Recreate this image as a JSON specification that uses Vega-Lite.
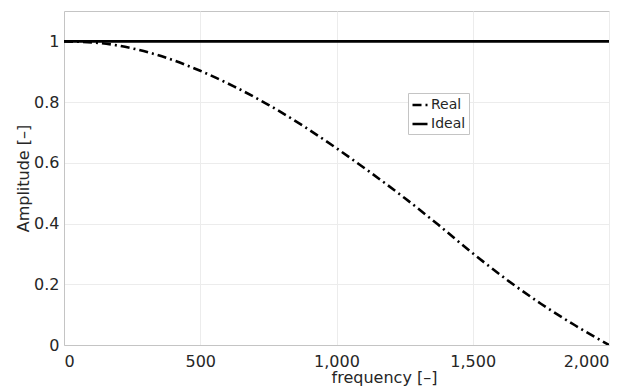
{
  "$schema": "https://vega.github.io/schema/vega-lite/v6.json",
  "autosize": {"type": "none"},
  "padding": {"left": 64, "top": 11, "right": 19, "bottom": 47},
  "width": 545,
  "height": 334,
  "background": "white",
  "config": {
    "font": "DejaVu Sans",
    "view": {"stroke": "#c4c4c4", "strokeWidth": 1},
    "axis": {
      "domainColor": "#c4c4c4",
      "gridColor": "#ececec",
      "gridWidth": 1,
      "ticks": false,
      "labelFont": "DejaVu Sans",
      "labelFontSize": 16,
      "labelColor": "#262626",
      "titleFont": "DejaVu Sans",
      "titleFontSize": 16,
      "titleFontWeight": "normal",
      "titleColor": "#262626"
    }
  },
  "data": {
    "values": [
      {"f": 0, "amp": 1.0, "series": "Real"},
      {"f": 125, "amp": 0.995, "series": "Real"},
      {"f": 250, "amp": 0.977, "series": "Real"},
      {"f": 375, "amp": 0.946, "series": "Real"},
      {"f": 500, "amp": 0.903, "series": "Real"},
      {"f": 625, "amp": 0.851, "series": "Real"},
      {"f": 750, "amp": 0.791, "series": "Real"},
      {"f": 875, "amp": 0.723, "series": "Real"},
      {"f": 1000, "amp": 0.648, "series": "Real"},
      {"f": 1125, "amp": 0.568, "series": "Real"},
      {"f": 1250, "amp": 0.484, "series": "Real"},
      {"f": 1375, "amp": 0.395, "series": "Real"},
      {"f": 1500, "amp": 0.302, "series": "Real"},
      {"f": 1625, "amp": 0.215, "series": "Real"},
      {"f": 1750, "amp": 0.136, "series": "Real"},
      {"f": 1875, "amp": 0.065, "series": "Real"},
      {"f": 2000, "amp": 0.0, "series": "Real"},
      {"f": 0, "amp": 1.0, "series": "Ideal"},
      {"f": 2000, "amp": 1.0, "series": "Ideal"}
    ]
  },
  "mark": {"type": "line", "color": "black", "strokeWidth": 2.6, "interpolate": "monotone", "clip": true},
  "encoding": {
    "x": {
      "field": "f",
      "type": "quantitative",
      "scale": {"domain": [0, 2000], "nice": false},
      "axis": {
        "values": [0, 500, 1000, 1500, 2000],
        "format": ",.0f",
        "title": "frequency [–]",
        "labelPadding": 8,
        "titlePadding": 0,
        "titleX": 320,
        "titleAnchor": "middle"
      }
    },
    "y": {
      "field": "amp",
      "type": "quantitative",
      "scale": {"domain": [0, 1.1], "nice": false},
      "axis": {
        "values": [0, 0.2, 0.4, 0.6, 0.8, 1],
        "format": ".1~f",
        "title": "Amplitude [–]",
        "labelPadding": 5,
        "titlePadding": 2
      }
    },
    "strokeDash": {
      "field": "series",
      "type": "nominal",
      "scale": {"domain": ["Real", "Ideal"], "range": [[9, 4, 2, 4], [1, 0]]},
      "legend": {
        "title": null,
        "orient": "none",
        "legendX": 344,
        "legendY": 82,
        "symbolType": "stroke",
        "symbolSize": 225,
        "symbolStrokeWidth": 2.6,
        "symbolStrokeColor": "black",
        "labelFontSize": 14,
        "labelColor": "#262626",
        "labelOffset": 2,
        "rowPadding": 3,
        "padding": 3,
        "strokeColor": "#c4c4c4",
        "fillColor": "white"
      }
    }
  }
}
